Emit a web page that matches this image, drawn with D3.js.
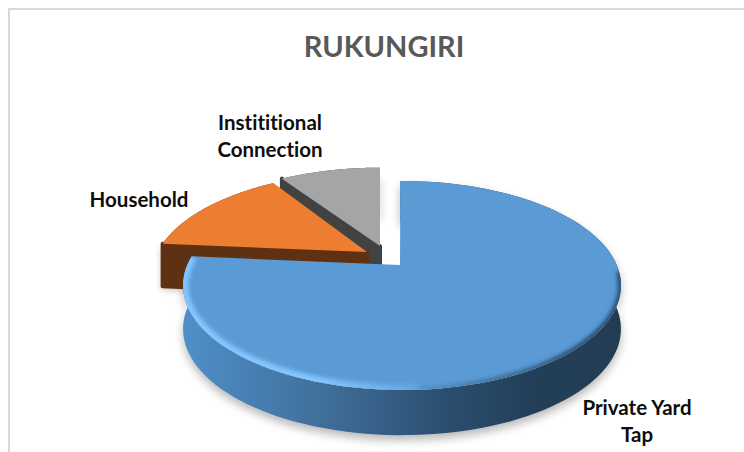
<!DOCTYPE html>
<html>
<head>
<meta charset="utf-8">
<script src="https://cdn.jsdelivr.net/npm/d3@7"></script>
<style>
  html, body { margin: 0; padding: 0; background: #fff; }
  svg { display: block; }
  text { font-family: Lato, "Open Sans", sans-serif; font-weight: 700; font-variant-ligatures: none; }
</style>
</head>
<body>
<div id="chart-container"></div>
<script>
// chart data (share of sources, percent)
const categories = ["Private Yard Tap", "Household", "Institutional Connection"];
const shares = [76.4, 14.4, 9.2];
const topColors = ["#5b9bd5", "#ed7d31", "#a5a5a5"];
const sideColors = ["#2f5578", "#5f3113", "#424242"];
const labelLines = [["Private Yard", "Tap"], ["Household"], ["Instititional", "Connection"]];
const title = "RUKUNGIRI";

const svgWidth = 744;
const svgHeight = 452;

const svg = d3.select("#chart-container")
    .append("svg")
    .attr("width", svgWidth)
    .attr("height", svgHeight);

const defs = svg.append("defs");

// soft blurs for the shadow and the bevel
[["blurShadow", 5], ["blurBevel", 2], ["blurSmall", 3]].forEach(function (b) {
    defs.append("filter")
        .attr("id", b[0])
        .attr("x", "-20%").attr("y", "-20%")
        .attr("width", "140%").attr("height", "140%")
        .append("feGaussianBlur").attr("stdDeviation", b[1]);
});

function xGradient(id, x1, x2, stops) {
    const grad = defs.append("linearGradient")
        .attr("id", id)
        .attr("gradientUnits", "userSpaceOnUse")
        .attr("x1", x1).attr("x2", x2).attr("y1", 0).attr("y2", 0);
    stops.forEach(function (s) {
        grad.append("stop").attr("offset", s[0]).attr("stop-color", s[1]);
    });
}

// side of the big slice goes from mid blue to dark navy, left to right
xGradient("sideGrad", 183, 621, [[0, "#4f8fca"], [0.3, "#41719d"], [0.6, "#2b4e70"], [0.8, "#233f58"], [1, "#223c54"]]);
// the rim light and rim shade both fade out around the front of the pie
xGradient("rimLight", 183, 450, [[0, "#84c6ff"], [0.5, "#84c6ff"], [1, "#5b9bd5"]]);
xGradient("rimDark", 400, 580, [[0, "#5b9bd5"], [1, "#264766"]]);

// the pie is a flat circle seen in perspective, so a slice point goes
// through this projection instead of d3.arc
const persp = 0.196;
const cx = 402, cy = 265;
const scaleX = d3.scaleLinear().domain([0, 1]).range([0, 214.7]);
const scaleY = d3.scaleLinear().domain([0, 1]).range([0, 100.5]);

function project(u, v, down) {
    const w = 1 - persp * v;
    const depth = down ? 43 * (1 + 0.05 * v) : 0;
    return [cx + scaleX(u / w), cy + scaleY(v / w) + depth];
}

// exploded slices are moved on the circle's plane, the hub a bit apart
// from the rim so the straight edges come out upright like the original
const explode = [[0, 0], [-0.167, -0.1325], [-0.1264, -0.196]];
const hubs = [[-0.0093, 0], [-0.167, -0.1325], [-0.1064, -0.196]];
const leans = [-0.0093, 0, 0];

const pie = d3.pie().sort(null).value(d => d);
const slices = pie(shares).map(function (d, i) {
    return { start: d.startAngle + leans[i], end: d.endAngle, du: explode[i][0], dv: explode[i][1], hub: hubs[i], i: i };
});

// angle is clockwise from the top of the pie
function arcPoints(s, a0, a1, down) {
    return d3.range(0, 121).map(function (k) {
        const a = a0 + (a1 - a0) * k / 120;
        return project(s.du + Math.sin(a), s.dv - Math.cos(a), down);
    });
}
function centerPoint(s, down) {
    return project(s.hub[0], s.hub[1], down);
}

const line = d3.line();
function topPath(s) {
    return line([centerPoint(s, false)].concat(arcPoints(s, s.start, s.end, false))) + "Z";
}
function sidePath(s) {
    return line(arcPoints(s, s.start, s.end, false)
        .concat(arcPoints(s, s.start, s.end, true).reverse())) + "Z";
}
function cutPath(s, a) {
    return line([centerPoint(s, false), arcPoints(s, a, a, false)[0],
        arcPoints(s, a, a, true)[0], centerPoint(s, true)]) + "Z";
}

// frame, only the top and left lines are in the picture
svg.append("path")
    .attr("d", d3.line()([[9, svgHeight], [9, 9], [svgWidth, 9]]))
    .attr("fill", "none")
    .attr("stroke", "#d9d9d9")
    .attr("stroke-width", 2);

svg.append("text")
    .text(title)
    .attr("x", 384).attr("y", 57)
    .attr("text-anchor", "middle")
    .attr("font-size", 29)
    .attr("fill", "#595959");

const blue = slices[0], orange = slices[1], gray = slices[2];

// shadows under the slices
svg.append("path")
    .attr("d", sidePath(blue))
    .attr("fill", "#000").attr("opacity", 0.28)
    .attr("transform", "translate(0,5)")
    .attr("filter", "url(#blurShadow)");
svg.append("path")
    .attr("d", cutPath(orange, orange.start))
    .attr("fill", "#000").attr("opacity", 0.2)
    .attr("transform", "translate(-2,4)")
    .attr("filter", "url(#blurSmall)");
svg.append("path")
    .attr("d", sidePath(gray))
    .attr("fill", "#000").attr("opacity", 0.08)
    .attr("transform", "translate(4,12)")
    .attr("filter", "url(#blurSmall)");

// back slices first, then the big one over them
[gray, orange].forEach(function (s) {
    const g = svg.append("g").attr("class", "slice");
    g.append("path").attr("d", sidePath(s))
        .attr("fill", sideColors[s.i]);
    g.append("path").attr("d", cutPath(s, s.start))
        .attr("fill", sideColors[s.i])
        .attr("stroke", sideColors[s.i]).attr("stroke-width", 4).attr("stroke-linejoin", "round");
    g.append("path").attr("d", topPath(s))
        .attr("fill", topColors[s.i]);
});

// big slice
const big = svg.append("g").attr("class", "slice");
big.append("path")
    .attr("d", sidePath(blue))
    .attr("fill", "url(#sideGrad)");
big.append("path")
    .attr("d", topPath(blue))
    .attr("fill", topColors[0]);

defs.append("clipPath").attr("id", "topClip")
    .append("path").attr("d", topPath(blue));

// bevel on the rim: dark on the lower right, light on the lower left
const bevel = big.append("g").attr("clip-path", "url(#topClip)");
bevel.append("path")
    .attr("d", line(arcPoints(blue, Math.PI * 0.52, Math.PI * 1.02, false)))
    .attr("fill", "none")
    .attr("stroke", "url(#rimDark)").attr("stroke-width", 6)
    .attr("filter", "url(#blurBevel)");
bevel.append("path")
    .attr("d", line(arcPoints(blue, Math.PI * 0.98, blue.end, false)))
    .attr("fill", "none")
    .attr("stroke", "url(#rimLight)").attr("stroke-width", 11)
    .attr("filter", "url(#blurBevel)");

// labels
const labelPos = [[637, 415], [139, 207], [270, 130]];
const lineGap = 27;
svg.selectAll(".label")
    .data(slices)
    .enter()
    .append("text")
    .attr("class", "label")
    .attr("text-anchor", "middle")
    .attr("font-size", 20.5)
    .attr("fill", "#0d0d0d")
    .each(function (d) {
        d3.select(this).selectAll("tspan")
            .data(labelLines[d.i])
            .enter()
            .append("tspan")
            .attr("x", labelPos[d.i][0])
            .attr("y", (t, k) => labelPos[d.i][1] + k * lineGap)
            .text(t => t);
    });
</script>
</body>
</html>
